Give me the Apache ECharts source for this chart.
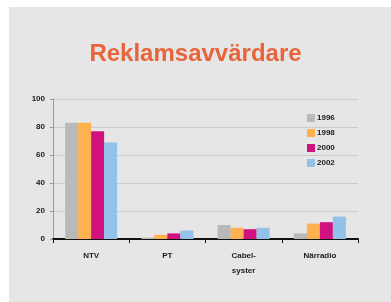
<!DOCTYPE html>
<html>
<head>
<meta charset="utf-8">
<script src="https://cdn.jsdelivr.net/npm/echarts@6/dist/echarts.min.js"></script>
<style>
  html, body { margin: 0; padding: 0; background: #ffffff; }
  #panel { position: absolute; left: 9px; top: 7px; right: 0; bottom: 0; background: #e6e6e6; }
  #chart { position: absolute; left: 0; top: 0; width: 391px; height: 302px; }
</style>
</head>
<body>
<div id="panel"></div>
<div id="chart"></div>
<script>
const titleText = 'Reklamsavvärdare'
const categories = ['NTV', 'PT', 'Cabel-\nsyster', 'Närradio']
const years = ['1996', '1998', '2000', '2002']
const colors = ['#b9b9b9', '#ffb04f', '#d0117f', '#92c1ea']
const values = [
  [83, 1, 10, 4],
  [83, 3, 8, 11],
  [77, 4, 7, 12],
  [69, 6, 8, 16]
]

const chart = echarts.init(document.getElementById('chart'))

const labelFont = { fontSize: 8, color: '#1a1a1a', fontWeight: 'bold', fontFamily: 'Liberation Sans' }

const options = {
  backgroundColor: 'transparent',
  animation: false,
  title: {
    text: titleText,
    left: 'center',
    top: 37,
    textStyle: {
      color: '#e9643b',
      fontSize: 24,
      fontWeight: 'bold',
      fontFamily: 'Liberation Sans'
    }
  },
  legend: {
    orient: 'vertical',
    left: 302,
    top: 109,
    itemWidth: 8,
    itemHeight: 8,
    itemGap: 7,
    icon: 'rect',
    textStyle: Object.assign({ padding: [0, 0, 0, -3] }, labelFont),
    data: years
  },
  grid: {
    left: 53,
    right: 33,
    top: 99,
    bottom: 63
  },
  xAxis: {
    type: 'category',
    data: categories,
    axisLine: { lineStyle: { color: '#111', width: 2 } },
    axisTick: { show: true, length: 4, lineStyle: { color: '#111' } },
    axisLabel: Object.assign({ margin: 9, lineHeight: 15 }, labelFont)
  },
  yAxis: {
    type: 'value',
    min: 0,
    max: 100,
    interval: 20,
    axisLine: { show: true, lineStyle: { color: '#999' } },
    axisTick: { show: true, length: 3, lineStyle: { color: '#999' } },
    axisLabel: Object.assign({ margin: 8 }, labelFont),
    splitLine: { lineStyle: { color: '#c8cbd0' } }
  },
  series: years.map((y, i) => ({
    name: y,
    type: 'bar',
    barWidth: 13,
    barGap: '0%',
    itemStyle: { color: colors[i] },
    data: values[i]
  }))
}

chart.setOption(options)
</script>
</body>
</html>
